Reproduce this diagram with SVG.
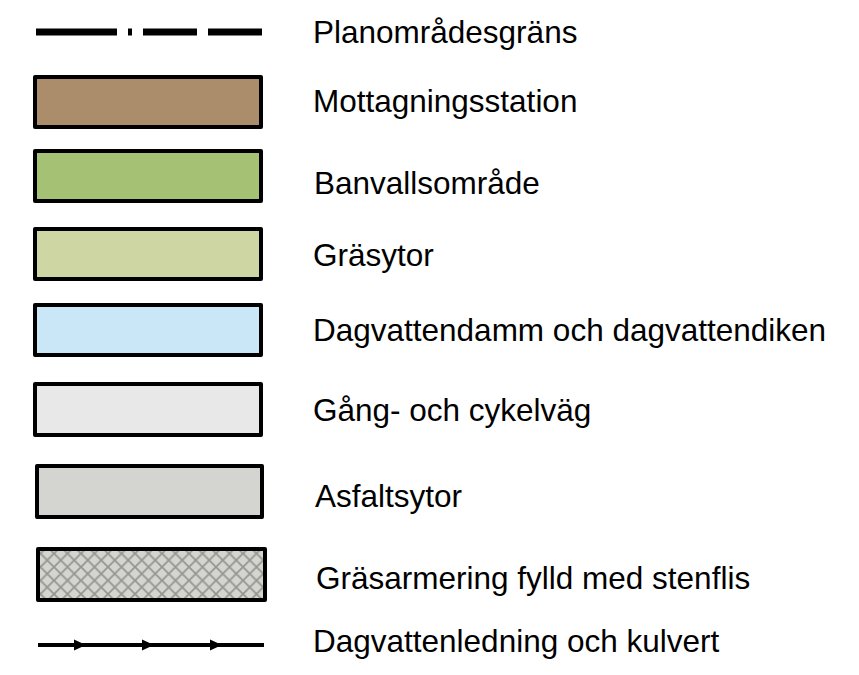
<svg xmlns="http://www.w3.org/2000/svg" width="859" height="675" viewBox="0 0 859 675">
<style>
.sw{stroke:#000;stroke-width:4;stroke-linejoin:round}
.lbl{font-family:"Liberation Sans",Arial,sans-serif;font-size:31.5px;fill:#000}
</style>
<defs>
<pattern id="hatch" width="13.5" height="13.5" patternUnits="userSpaceOnUse">
<rect width="13.5" height="13.5" fill="#D4D5D0"/>
<path d="M0,0 L13.5,13.5 M13.5,0 L0,13.5" stroke="#96968F" stroke-width="1.8"/>
</pattern>
<marker id="arr" viewBox="0 0 12 12" refX="11" refY="6" markerWidth="12" markerHeight="12" markerUnits="userSpaceOnUse" orient="auto">
<path d="M0,0.5 L12,6 L0,11.5 Z" fill="#000"/>
</marker>
</defs>
<rect width="859" height="675" fill="#fff"/>
<g id="planomradesgrans">
<g fill="#000">
<rect x="36" y="28.5" width="81" height="7"/>
<rect x="128" y="28.5" width="4" height="7"/>
<rect x="143" y="28.5" width="54" height="7"/>
<rect x="208" y="28.5" width="54" height="7"/>
</g>
<text class="lbl" x="313" y="43">Planområdesgräns</text>
</g>
<g id="mottagningsstation">
<rect class="sw" x="35" y="77" width="226" height="50" fill="#AB8C6B"/>
<text class="lbl" x="313" y="112">Mottagningsstation</text>
</g>
<g id="banvallsomrade">
<rect class="sw" x="35" y="151" width="226" height="50" fill="#A5C274"/>
<text class="lbl" x="314" y="194">Banvallsområde</text>
</g>
<g id="grasytor">
<rect class="sw" x="35" y="229" width="226" height="50" fill="#CED6A4"/>
<text class="lbl" x="313" y="266">Gräsytor</text>
</g>
<g id="dagvattendamm">
<rect class="sw" x="35" y="305" width="226" height="50" fill="#C9E7F7"/>
<text class="lbl" x="313" y="341">Dagvattendamm och dagvattendiken</text>
</g>
<g id="gang-och-cykelvag">
<rect class="sw" x="35" y="384" width="226" height="51" fill="#E8E8E8"/>
<text class="lbl" x="313" y="421">Gång- och cykelväg</text>
</g>
<g id="asfaltsytor">
<rect class="sw" x="37" y="466" width="225" height="51" fill="#D4D5D0"/>
<text class="lbl" x="315" y="507">Asfaltsytor</text>
</g>
<g id="grasarmering">
<rect class="sw" x="38" y="549" width="227" height="51" fill="url(#hatch)"/>
<text class="lbl" x="316" y="589">Gräsarmering fylld med stenflis</text>
</g>
<g id="connectors">
<g id="dagvattenledning">
<path d="M38,645 L85,645 L153,645 L221,645 L264,645" fill="none" stroke="#000" stroke-width="4" marker-mid="url(#arr)"/>
</g>
</g>
<text class="lbl" x="313" y="652">Dagvattenledning och kulvert</text>
</svg>
